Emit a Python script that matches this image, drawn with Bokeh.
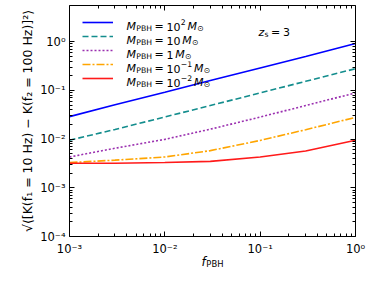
from bokeh.plotting import figure
from bokeh.models import (FixedTicker, CustomJSTickFormatter, LogAxis, Legend,
                          LegendItem, Label, Range1d)
from bokeh.embed import file_html
from bokeh.resources import INLINE

# ---------------- data ----------------
f_pbh = [1e-3, 3e-3, 1e-2, 3e-2, 1e-1, 3e-1, 1.0]
k_m100 = [0.029, 0.051, 0.092, 0.160, 0.290, 0.500, 0.920]
k_m10 = [0.0095, 0.0158, 0.0285, 0.049, 0.089, 0.154, 0.280]
k_m1 = [0.0043, 0.0065, 0.0099, 0.016, 0.0284, 0.049, 0.089]
k_m01 = [0.0033, 0.0037, 0.0043, 0.0058, 0.0094, 0.0156, 0.028]
k_m001 = [0.0032, 0.0032, 0.0033, 0.0035, 0.0043, 0.0057, 0.0095]

mass_base = ["10", "10", "1", "10", "10"]
mass_exp = ["2", "", "", "\u22121", "\u22122"]
colors = ["#0000ff", "#138d8d", "#9b30b0", "#ffa500", "#ff1a1a"]
dashes = ["solid", "6 3", "2 2", "8 2 2 2", "solid"]
series = [k_m100, k_m10, k_m1, k_m01, k_m001]

x_major = [1e-3, 1e-2, 1e-1, 1.0]
y_major = [1e-4, 1e-3, 1e-2, 1e-1, 1.0]

FONT = "DejaVu Sans"
W_FIG, H_FIG = 366, 269
FL, FR, FT, FB = 68, 355, 5, 236
Y_TOP_LOG = 0.745

p = figure(width=W_FIG, height=H_FIG, x_axis_type="log", y_axis_type="log",
           x_range=Range1d(1e-3, 1.0), y_range=Range1d(1e-4, 10 ** Y_TOP_LOG),
           output_backend="svg", toolbar_location=None,
           min_border_left=FL, min_border_right=W_FIG - FR, min_border_top=FT,
           min_border_bottom=H_FIG - FB)
p.background_fill_color = "white"
p.border_fill_color = "white"
p.outline_line_color = None
p.xgrid.visible = False
p.ygrid.visible = False

renderers = []
for ys, c, d in zip(series, colors, dashes):
    r = p.line(f_pbh, ys, line_color=c, line_width=1.6, line_dash=d)
    renderers.append(r)

def minors(majors):
    out = []
    for m in majors[:-1]:
        out += [m * k for k in range(2, 10)]
    return out

fmt = CustomJSTickFormatter(code="""
const sup = {'-':'\u207b','0':'\u2070','1':'\u00b9','2':'\u00b2','3':'\u00b3','4':'\u2074','5':'\u2075'};
const e = Math.round(Math.log10(tick));
return '10' + String(e).split('').map(c => sup[c]).join('');
""")

def style_axis(ax, show_labels=True):
    ax.axis_line_color = "black"
    ax.axis_line_width = 1
    ax.major_tick_in = 5
    ax.major_tick_out = 0
    ax.minor_tick_in = 3
    ax.minor_tick_out = 0
    ax.major_tick_line_color = "black"
    ax.minor_tick_line_color = "black"
    ax.major_label_text_font = FONT
    ax.major_label_text_color = "black"
    ax.formatter = fmt
    if show_labels:
        ax.major_label_text_font_size = "11.5px"
    else:
        ax.major_label_text_font_size = "1px"
        ax.major_label_text_alpha = 0
        ax.major_label_standoff = 0

p.xaxis.ticker = FixedTicker(ticks=x_major, minor_ticks=minors(x_major))
p.yaxis.ticker = FixedTicker(ticks=y_major, minor_ticks=minors(y_major))
style_axis(p.xaxis[0])
style_axis(p.yaxis[0])
p.xaxis.major_label_standoff = 5
p.yaxis.major_label_standoff = 4

top = LogAxis(ticker=FixedTicker(ticks=x_major, minor_ticks=minors(x_major)))
right = LogAxis(ticker=FixedTicker(ticks=y_major, minor_ticks=minors(y_major)))
style_axis(top, False)
style_axis(right, False)
p.add_layout(top, "above")
p.add_layout(right, "right")

p.yaxis[0].axis_label = "\u221a\u27e8[K(f\u2081 = 10 Hz) \u2212 K(f\u2082 = 100 Hz)]\u00b2\u27e9"
p.yaxis[0].axis_label_text_font = FONT
p.yaxis[0].axis_label_text_font_size = "12.5px"
p.yaxis[0].axis_label_text_font_style = "normal"
p.yaxis[0].axis_label_text_color = "black"
p.yaxis[0].axis_label_standoff = 2

# ---------------- positions: reference pixels -> this figure ----------------
def rx(px):
    return FL + (px - 66) * (FR - FL) / 301

def ry(py):
    return FT + (py - 5) * (FB - FT) / 242

def px2data(px, py):
    return (10 ** (-3 + 3 * (px - FL) / (FR - FL)),
            10 ** (-4 + (4 + Y_TOP_LOG) * (FB - py) / (FB - FT)))

ROW = 14
row0 = ry(23.3)

# ---------------- legend swatches ----------------
items = [LegendItem(label=" ", renderers=[r]) for r in renderers]
leg_top = row0 - ROW / 2
leg = Legend(items=items,
             location=(round(rx(79.3) - FL), round(FB - (leg_top + 5 * ROW))),
             glyph_width=31, glyph_height=ROW, label_height=ROW, spacing=0,
             padding=0, margin=0, label_text_font_size="10px", label_standoff=0,
             background_fill_alpha=0, border_line_alpha=0)
p.add_layout(leg, "center")

# ---------------- composed texts ----------------
W = {'M': 0.863, 'P': 0.603, 'B': 0.686, 'H': 0.752, ' ': 0.318, '=': 0.838,
     '\u2212': 0.838, '\u2299': 0.838, 'z': 0.523, 's': 0.521, 'f': 0.352}
for dch in "0123456789":
    W[dch] = 0.636

def tw(s, size):
    return sum(W.get(c, 0.6) for c in s) * size

def run(x, y, text, size, italic=False, dy=0.0, place="center"):
    dx, dyy = px2data(x, y - dy)
    p.add_layout(Label(x=dx, y=dyy, text=text, text_font=FONT,
                       text_font_size=f"{size}px",
                       text_font_style="italic" if italic else "normal",
                       text_baseline="alphabetic", text_align="left",
                       text_color="black"), place)
    return x + tw(text, size)

F = 11
S = 7.7
for i, (b, e) in enumerate(zip(mass_base, mass_exp)):
    base_y = row0 + ROW * i + 3.6
    x = rx(126)
    x = run(x, base_y, "M", F, italic=True)
    x = run(x + 0.4, base_y, "PBH", S, dy=-2.4)
    x = run(x + 2.6, base_y, "=", F)
    x = run(x + 2.6, base_y, b, F)
    if e:
        x = run(x + 0.4, base_y, e, S, dy=4.2)
    x = run(x + 2.0, base_y, "M", F, italic=True)
    run(x + 0.3, base_y, "\u2299", S, dy=-2.4)

# z_s = 3
zy = ry(33)
x = rx(265)
x = run(x, zy, "z", F, italic=True)
x = run(x + 0.2, zy, "s", S, dy=-2.4)
x = run(x + 2.6, zy, "=", F)
run(x + 2.6, zy, "3", F)

# x axis label f_PBH: drawn from side panels so it is not clipped by the frame
fx = (FL + FR) / 2 - (tw("f", 12) + 0.6 + tw("PBH", 8.4)) / 2
x = run(fx, FB + 25, "f", 12, italic=True, place="right")
run(x + 0.6, FB + 25, "PBH", 8.4, dy=-2.6, place="left")

open("out.html", "w").write(file_html(p, INLINE))
